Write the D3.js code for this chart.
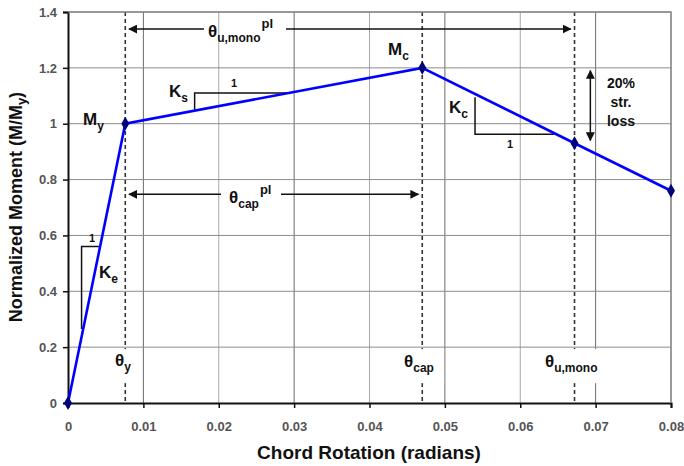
<!DOCTYPE html>
<html>
<head>
<meta charset="utf-8">
<script src="https://cdn.jsdelivr.net/npm/d3@7"></script>
<style>
  body { margin: 0; background: #fff; }
  svg text { font-family: "Liberation Sans", Arial, sans-serif; font-weight: bold; }
</style>
</head>
<body>
<div id="my_dataviz"></div>
<script>
// backbone curve points
var rotation = [0, 0.0076, 0.047, 0.0672, 0.08];
var moment = [0, 1.0, 1.2, 0.93, 0.76];
// rotations of the dashed markers: theta_y, theta_cap, theta_u,mono
var thetaMarks = [0.0076, 0.047, 0.0672];
var xTicks = [0, 0.01, 0.02, 0.03, 0.04, 0.05, 0.06, 0.07, 0.08];
var yTicks = [0, 0.2, 0.4, 0.6, 0.8, 1, 1.2, 1.4];

// set the dimensions and margins of the graph
var margin = {top: 12, right: 13, bottom: 63, left: 68},
    width = 684 - margin.left - margin.right,
    height = 466 - margin.top - margin.bottom;

var svg = d3.select("#my_dataviz")
  .append("svg")
    .attr("width", 684)
    .attr("height", 466)
  .append("g")
    .attr("transform", "translate(" + margin.left + "," + margin.top + ")");

var defs = svg.append("defs");
defs.append("marker")
    .attr("id", "head")
    .attr("viewBox", "0 0 10 10")
    .attr("refX", 9).attr("refY", 5)
    .attr("markerWidth", 9).attr("markerHeight", 9)
    .attr("markerUnits", "userSpaceOnUse")
    .attr("orient", "auto-start-reverse")
  .append("path")
    .attr("d", "M0,0L10,5L0,10z")
    .attr("fill", "#111");

var x = d3.scaleLinear().domain([0, 0.08]).range([0, width]);
var y = d3.scaleLinear().domain([0, 1.4]).range([height, 0]);

// grid
svg.selectAll(".vgrid")
  .data(xTicks.slice(1))
  .enter().append("line")
    .attr("x1", function(d) { return x(d); })
    .attr("x2", function(d) { return x(d); })
    .attr("y1", 0).attr("y2", height)
    .attr("stroke", function(d, i) { return i % 2 == 0 ? "#6a6a6a" : "#a8a8a8"; })
    .attr("stroke-width", 1);
svg.selectAll(".hgrid")
  .data(yTicks.slice(1))
  .enter().append("line")
    .attr("x1", 0).attr("x2", width)
    .attr("y1", function(d) { return y(d); })
    .attr("y2", function(d) { return y(d); })
    .attr("stroke", "#8c8c8c")
    .attr("stroke-width", 1);

// dashed markers
svg.selectAll(".theta")
  .data(thetaMarks)
  .enter().append("line")
    .attr("x1", function(d) { return x(d); })
    .attr("x2", function(d) { return x(d); })
    .attr("y1", 0).attr("y2", height)
    .attr("stroke", "#333")
    .attr("stroke-width", 1.6)
    .attr("stroke-dasharray", "4,3");

// white boxes behind the bottom theta labels
var boxes = [[0.0060, 0.0093], [0.0433, 0.0499], [0.0626, 0.0728]];
svg.selectAll(".box")
  .data(boxes)
  .enter().append("rect")
    .attr("x", function(d) { return x(d[0]); })
    .attr("width", function(d) { return x(d[1]) - x(d[0]); })
    .attr("y", y(0.2) + 2)
    .attr("height", 34)
    .attr("fill", "#fff");

// axes
var xAxis = svg.append("g")
  .attr("transform", "translate(0," + height + ")")
  .call(d3.axisBottom(x).tickValues(xTicks).tickSize(5).tickPadding(14)
        .tickFormat(function(d) { return d == 0 ? "0" : d3.format(".2f")(d); }));
var yAxis = svg.append("g")
  .call(d3.axisLeft(y).tickValues(yTicks).tickSize(5).tickPadding(6)
        .tickFormat(function(d) { return d3.format("~g")(d); }));
xAxis.select(".domain").attr("stroke", "#111").attr("stroke-width", 2);
yAxis.select(".domain").attr("stroke", "#111").attr("stroke-width", 2);
svg.selectAll(".tick line").attr("stroke", "#111").attr("stroke-width", 1.5);
svg.selectAll(".tick text")
  .style("font", "bold 13px 'Liberation Sans', Arial")
  .attr("fill", "#555");

// frame top / right
svg.append("path")
  .attr("d", "M0,0H" + width + "V" + height)
  .attr("fill", "none")
  .attr("stroke", "#888")
  .attr("stroke-width", 1.5);

// slope triangles
function tri(pts) {
  svg.append("path")
    .attr("d", d3.line()(pts.map(function(p) { return [x(p[0]), y(p[1])]; })))
    .attr("fill", "none")
    .attr("stroke", "#111")
    .attr("stroke-width", 1.5);
}
tri([[0.0168, 1.05], [0.0168, 1.11], [0.0296, 1.11]]);
tri([[0.0018, 0.265], [0.0018, 0.56], [0.0043, 0.56]]);
tri([[0.054, 1.095], [0.054, 0.962], [0.0645, 0.962]]);

// horizontal double arrows
function hArrow(x1, x2, yv, gap1, gap2) {
  svg.append("line")
    .attr("x1", x(x1)).attr("x2", gap1).attr("y1", y(yv)).attr("y2", y(yv))
    .attr("stroke", "#111").attr("stroke-width", 1.5)
    .attr("marker-start", "url(#head)");
  svg.append("line")
    .attr("x1", gap2).attr("x2", x(x2)).attr("y1", y(yv)).attr("y2", y(yv))
    .attr("stroke", "#111").attr("stroke-width", 1.5)
    .attr("marker-end", "url(#head)");
}
hArrow(0.0081, 0.0667, 1.339, 136, 218);
hArrow(0.0081, 0.0465, 0.747, 153, 213);

// vertical double arrow (20% loss)
svg.append("line")
  .attr("x1", x(0.0693)).attr("x2", x(0.0693))
  .attr("y1", y(1.19)).attr("y2", y(0.94))
  .attr("stroke", "#111").attr("stroke-width", 1.5)
  .attr("marker-start", "url(#head)")
  .attr("marker-end", "url(#head)");

// backbone curve
var pts = rotation.map(function(d, i) { return [d, moment[i]]; });
svg.append("path")
  .datum(pts)
  .attr("fill", "none")
  .attr("stroke", "#0000ff")
  .attr("stroke-width", 2.6)
  .attr("d", d3.line()
    .x(function(d) { return x(d[0]); })
    .y(function(d) { return y(d[1]); }));
svg.selectAll(".pt")
  .data(pts)
  .enter().append("path")
    .attr("d", d3.symbol().type(d3.symbolDiamond).size(55))
    .attr("transform", function(d) { return "translate(" + x(d[0]) + "," + y(d[1]) + ")"; })
    .attr("fill", "#00007a");

// labels with sub / superscripts
function label(px, py, main, sub, sup, size) {
  size = size || 17;
  var t = svg.append("text")
    .attr("x", px - margin.left).attr("y", py - margin.top)
    .style("font-size", size + "px")
    .attr("fill", "#111");
  t.append("tspan").text(main);
  var s = t.append("tspan").attr("dy", 5).style("font-size", "12px").text(sub);
  if (sup) {
    t.append("tspan").attr("dy", -14).attr("dx", 1).style("font-size", "13px").text(sup);
  }
  return t;
}
label(83, 125, "M", "y");
label(388, 55, "M", "c");
label(169, 97, "K", "s");
label(449, 113, "K", "c");
label(99, 278, "K", "e");
label(115, 366, "θ", "y");
label(404, 367, "θ", "cap");
label(545, 367, "θ", "u,mono");
label(208, 37, "θ", "u,mono", "pl");
label(229, 203, "θ", "cap", "pl");

// the "1" of each slope triangle
var ones = [[231, 87], [89, 242], [507, 148]];
svg.selectAll(".one")
  .data(ones)
  .enter().append("text")
    .attr("x", function(d) { return d[0] - margin.left; })
    .attr("y", function(d) { return d[1] - margin.top; })
    .style("font-size", "11px")
    .attr("fill", "#111")
    .text("1");

// 20% str. loss
["20%", "str.", "loss"].forEach(function(s, i) {
  svg.append("text")
    .attr("x", 621 - margin.left)
    .attr("y", 88 + i * 19 - margin.top)
    .attr("text-anchor", "middle")
    .style("font-size", "14px")
    .attr("fill", "#111")
    .text(s);
});

// axis titles
svg.append("text")
  .attr("x", 369 - margin.left)
  .attr("y", height + 56)
  .attr("text-anchor", "middle")
  .style("font-size", "19px")
  .attr("fill", "#111")
  .text("Chord Rotation (radians)");
var yl = svg.append("text")
  .attr("transform", "translate(" + (22 - margin.left) + "," + (207 - margin.top) + ") rotate(-90)")
  .attr("text-anchor", "middle")
  .style("font-size", "18px")
  .attr("fill", "#111");
yl.append("tspan").text("Normalized Moment (M/M");
yl.append("tspan").attr("dy", 4).style("font-size", "13px").text("y");
yl.append("tspan").attr("dy", -4).text(")");
</script>
</body>
</html>
